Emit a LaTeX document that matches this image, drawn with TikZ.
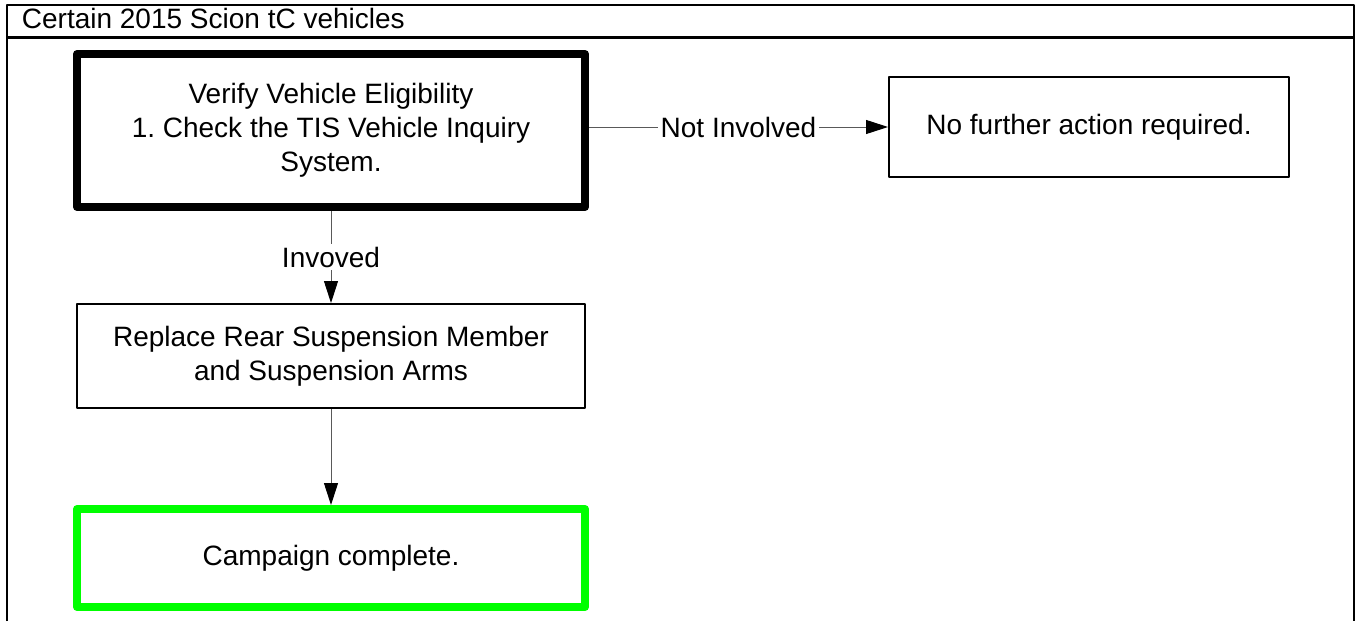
\documentclass[tikz,border=0pt]{standalone}
\usepackage{fontspec}
\setmainfont{Liberation Sans}
\usetikzlibrary{arrows.meta}

\begin{document}
\begin{tikzpicture}[x=0.5pt, y=-0.5pt, every node/.style = {shape=rectangle, align=center, inner sep=0pt, font=\fontsize{14}{17}\selectfont\frenchspacing}, line join=round]
	\tikzstyle{check} = [draw=black, line width=4pt, minimum width=254pt, minimum height=76.5pt]
	\tikzstyle{action} = [draw=black, line width=1pt, minimum width=254pt, minimum height=52pt]
	\tikzstyle{noaction} = [draw=black, line width=1pt, minimum width=200pt, minimum height=50pt]
	\tikzstyle{finish} = [draw=green, line width=4pt, minimum width=254pt, minimum height=49pt]
	\tikzstyle{tag} = [fill=white, inner sep=1.5pt]
	\tikzstyle{flow} = [-{Triangle[length=11pt, width=7pt, color=black]}, draw=black!65, line width=0.5pt]
	\useasboundingbox (0,0) rectangle (1359,621);
	% frame and heading
	\draw[line width=1.25pt] (7,621) -- (7,5) -- (1354,5) -- (1354,621);
	\draw[line width=1.25pt] (7,37.5) -- (1354,37.5);
	\node[anchor=base west] (title) at (21.5,28) {Certain 2015 Scion tC vehicles};
	% steps
	\node[check] (verify) at (331,130.5) {Verify Vehicle Eligibility\\1. Check the TIS Vehicle Inquiry\\System.};
	\node[noaction] (nofurther) at (1089,127) {No further action required.};
	\node[action] (replace) at (331,356) {Replace Rear Suspension Member\\and Suspension Arms};
	\node[finish] (complete) at (331,558) {Campaign complete.};
	% connectors
	\draw[flow] (verify.east |- nofurther.west) -- node[tag] {Not Involved} (nofurther.west);
	\draw[flow] (verify) -- node[tag] {Invoved} (replace);
	\draw[flow] (replace) -- (complete);
\end{tikzpicture}
\end{document}
